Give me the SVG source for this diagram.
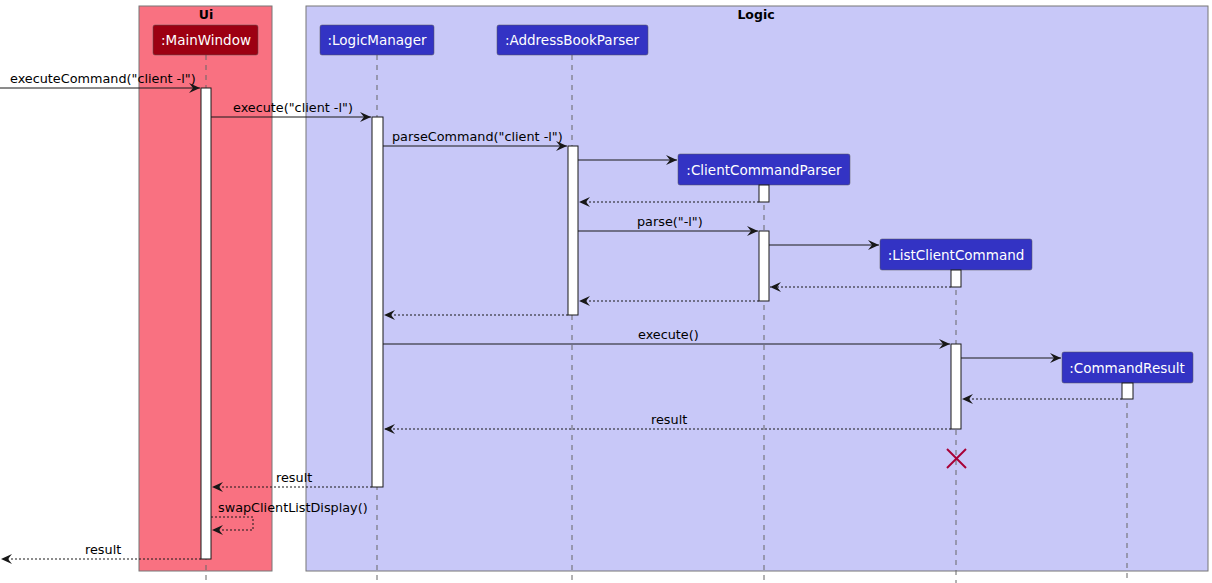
<svg xmlns="http://www.w3.org/2000/svg" width="1212" height="583" viewBox="0 0 1212 583">
<style>
.box{stroke:#777;stroke-width:1}
.part{fill:#3333C4;stroke:#555;stroke-width:0.5}
.ptext{font-family:"DejaVu Sans","Liberation Sans",Arial,sans-serif;font-size:13.5px;fill:#fff;text-anchor:middle}
.life{stroke:#666;stroke-width:1;stroke-dasharray:5,5}
.act{fill:#fff;stroke:#181818;stroke-width:1}
.msg{stroke:#181818;stroke-width:1;fill:none}
.ret{stroke:#181818;stroke-width:1;fill:none;stroke-dasharray:2,2}
.lbl{font-family:"DejaVu Sans","Liberation Sans",Arial,sans-serif;font-size:12.8px;fill:#000}
.title{font-family:"DejaVu Sans","Liberation Sans",Arial,sans-serif;font-size:12.5px;font-weight:bold;fill:#000;text-anchor:middle}
</style>
<defs>
<marker id="ah" markerWidth="12" markerHeight="10" refX="11" refY="5" orient="auto" markerUnits="userSpaceOnUse">
<path d="M0,0 L11,5 L0,10 L4,5 Z" fill="#181818"/>
</marker>
</defs>
<rect width="1212" height="583" fill="#fff"/>
<g id="ui-box">
<rect class="box" x="139" y="6" width="133" height="565" fill="#F97181"/>
<text class="title" x="206" y="19">Ui</text>
</g>
<g id="logic-box">
<rect class="box" x="306" y="6" width="902" height="565" fill="#C8C8F8"/>
<text class="title" x="756" y="19">Logic</text>
</g>
<g id="lifelines">
<line class="life" x1="206" y1="55" x2="206" y2="583"/>
<line class="life" x1="377" y1="55" x2="377" y2="583"/>
<line class="life" x1="572" y1="55" x2="572" y2="583"/>
<line class="life" x1="764" y1="185" x2="764" y2="583"/>
<line class="life" x1="956" y1="270" x2="956" y2="583"/>
<line class="life" x1="1127" y1="383" x2="1127" y2="583"/>
</g>
<g id="MainWindow">
<rect x="153" y="25" width="105" height="30" rx="2" fill="#9D0012" stroke="#555" stroke-width="0.5"/>
<text class="ptext" x="206" y="45">:MainWindow</text>
<rect class="act" x="201" y="88" width="10" height="471"/>
</g>
<g id="LogicManager">
<rect class="part" x="320" y="25" width="114" height="30" rx="2"/>
<text class="ptext" x="377" y="45">:LogicManager</text>
<rect class="act" x="372" y="117" width="11" height="370"/>
</g>
<g id="AddressBookParser">
<rect class="part" x="497" y="25" width="151" height="30" rx="2"/>
<text class="ptext" x="572" y="45">:AddressBookParser</text>
<rect class="act" x="568" y="146" width="10" height="169"/>
</g>
<g id="ClientCommandParser">
<rect class="part" x="678" y="154" width="172" height="31" rx="2"/>
<text class="ptext" x="764" y="175">:ClientCommandParser</text>
<rect class="act" x="759" y="185" width="10" height="17"/>
<rect class="act" x="759" y="231" width="10" height="70"/>
</g>
<g id="ListClientCommand">
<rect class="part" x="880" y="239" width="152" height="31" rx="2"/>
<text class="ptext" x="956" y="260">:ListClientCommand</text>
<rect class="act" x="951" y="270" width="10" height="17"/>
<rect class="act" x="951" y="344" width="10" height="85"/>
</g>
<g id="CommandResult">
<rect class="part" x="1062" y="352" width="131" height="31" rx="2"/>
<text class="ptext" x="1127" y="373">:CommandResult</text>
<rect class="act" x="1122" y="383" width="11" height="16"/>
</g>
<g id="connectors">
<line class="msg" x1="0" y1="88" x2="200" y2="88" marker-end="url(#ah)"/>
<text class="lbl" x="10" y="83">executeCommand("client -l")</text>
<line class="msg" x1="211" y1="117" x2="371" y2="117" marker-end="url(#ah)"/>
<text class="lbl" x="233" y="112">execute("client -l")</text>
<line class="msg" x1="383" y1="146" x2="567" y2="146" marker-end="url(#ah)"/>
<text class="lbl" x="392" y="141">parseCommand("client -l")</text>
<line class="msg" x1="578" y1="160" x2="677" y2="160" marker-end="url(#ah)"/>
<line class="ret" x1="759" y1="202" x2="579" y2="202" marker-end="url(#ah)"/>
<line class="msg" x1="578" y1="231" x2="758" y2="231" marker-end="url(#ah)"/>
<text class="lbl" x="637" y="226">parse("-l")</text>
<line class="msg" x1="769" y1="245" x2="879" y2="245" marker-end="url(#ah)"/>
<line class="ret" x1="951" y1="287" x2="770" y2="287" marker-end="url(#ah)"/>
<line class="ret" x1="759" y1="301" x2="579" y2="301" marker-end="url(#ah)"/>
<line class="ret" x1="568" y1="315" x2="384" y2="315" marker-end="url(#ah)"/>
<line class="msg" x1="383" y1="344" x2="950" y2="344" marker-end="url(#ah)"/>
<text class="lbl" x="638" y="339">execute()</text>
<line class="msg" x1="961" y1="358" x2="1061" y2="358" marker-end="url(#ah)"/>
<line class="ret" x1="1122" y1="399" x2="962" y2="399" marker-end="url(#ah)"/>
<line class="ret" x1="951" y1="429" x2="384" y2="429" marker-end="url(#ah)"/>
<text class="lbl" x="651" y="424">result</text>
<g stroke="#A80036" stroke-width="2">
<line x1="947" y1="449" x2="966" y2="468"/>
<line x1="966" y1="449" x2="947" y2="468"/>
</g>
<line class="ret" x1="372" y1="487" x2="212" y2="487" marker-end="url(#ah)"/>
<text class="lbl" x="276" y="482">result</text>
<polyline class="ret" points="211,517 253,517 253,530 212,530" marker-end="url(#ah)"/>
<text class="lbl" x="218" y="512">swapClientListDisplay()</text>
<line class="ret" x1="201" y1="559" x2="1" y2="559" marker-end="url(#ah)"/>
<text class="lbl" x="85" y="554">result</text>
</g>
</svg>
